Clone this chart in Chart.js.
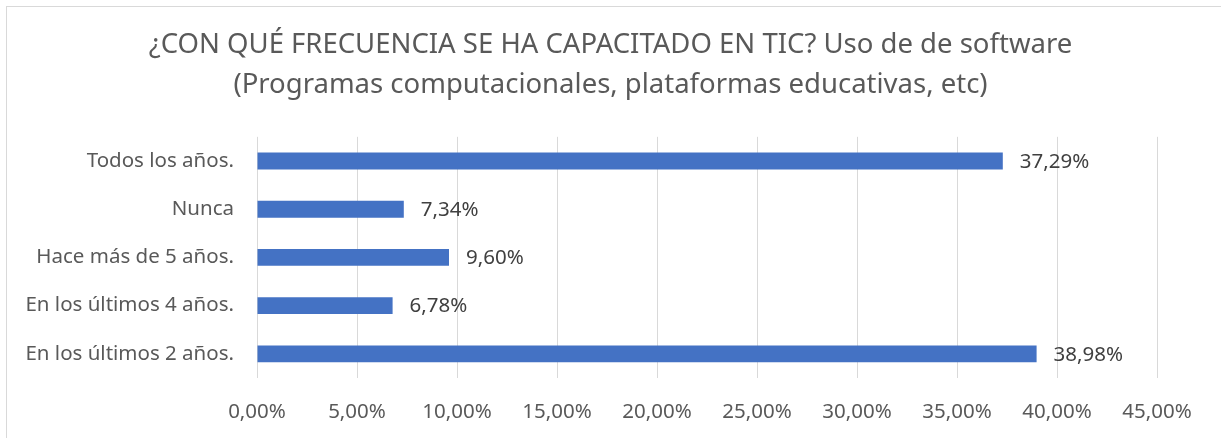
<!DOCTYPE html>
<html>
<head>
<meta charset="utf-8">
<script src="https://cdn.jsdelivr.net/npm/chart.js@4/dist/chart.umd.min.js"></script>
<style>
    body { margin: 0; background: #ffffff; overflow: hidden; }
    #frame { position: absolute; left: 6px; top: 6px; width: 1300px; height: 500px; border: 1px solid #d9d9d9; }
    #wrap { position: absolute; left: 0; top: 0; width: 1221px; height: 438px; }
</style>
</head>
<body>
<div id="frame"></div>
<div id="wrap"><canvas id="freqChart" width="1221" height="438"></canvas></div>
<script>
const categories = ['Todos los años.', 'Nunca', 'Hace más de 5 años.', 'En los últimos 4 años.', 'En los últimos 2 años.'];
const percentages = [37.29, 7.34, 9.60, 6.78, 38.98];
const titleLines = ['¿CON QUÉ FRECUENCIA SE HA CAPACITADO EN TIC? Uso de de software', '(Programas computacionales, plataformas educativas, etc)'];

function pct(v) {
    return Number(v).toFixed(2).replace('.', ',') + '%';
}

// labels to the right of each bar
const barLabels = {
    id: 'barLabels',
    afterDatasetsDraw(chart) {
        const ctx = chart.ctx;
        const meta = chart.getDatasetMeta(0);
        ctx.save();
        ctx.font = '20.5px "Noto Sans"';
        ctx.fillStyle = '#404040';
        ctx.textAlign = 'left';
        ctx.textBaseline = 'middle';
        meta.data.forEach(function (bar, i) {
            ctx.fillText(pct(percentages[i]), bar.x + 17, bar.y + 1);
        });
        ctx.restore();
    }
};

const ctx = document.getElementById('freqChart').getContext('2d');
const freqChart = new Chart(ctx, {
    type: 'bar',
    data: {
        labels: categories,
        datasets: [{
            data: percentages,
            backgroundColor: '#4472c4',
            barPercentage: 0.35,
            categoryPercentage: 1
        }]
    },
    options: {
        indexAxis: 'y',
        responsive: false,
        animation: false,
        layout: { padding: 0 },
        plugins: {
            legend: { display: false },
            tooltip: { enabled: false },
            title: {
                display: true,
                text: titleLines,
                color: '#595959',
                font: { family: '"Noto Sans"', size: 27.5, weight: 'normal', lineHeight: 1.47 },
                padding: { top: 25, bottom: 31 }
            }
        },
        scales: {
            x: {
                min: 0,
                max: 45,
                grid: { color: '#d9d9d9', lineWidth: 1, drawTicks: false },
                border: { display: false },
                ticks: {
                    stepSize: 5,
                    padding: 22,
                    color: '#595959',
                    font: { family: '"Noto Sans"', size: 20.5 },
                    callback: function (v) { return pct(v); }
                },
                afterFit: function (scale) { scale.height = 60; }
            },
            y: {
                grid: { display: false, drawTicks: false },
                border: { display: false },
                ticks: {
                    padding: 23,
                    color: '#595959',
                    font: { family: '"Noto Sans"', size: 20.5 }
                },
                afterFit: function (scale) { scale.width = 257; }
            },
            // empty right axis, only keeps the right margin so the title stays centred
            spacer: {
                type: 'linear',
                position: 'right',
                display: true,
                grid: { display: false, drawTicks: false },
                border: { display: false },
                ticks: { display: false },
                afterFit: function (scale) { scale.width = 64; }
            }
        }
    },
    plugins: [barLabels]
});
</script>
</body>
</html>
